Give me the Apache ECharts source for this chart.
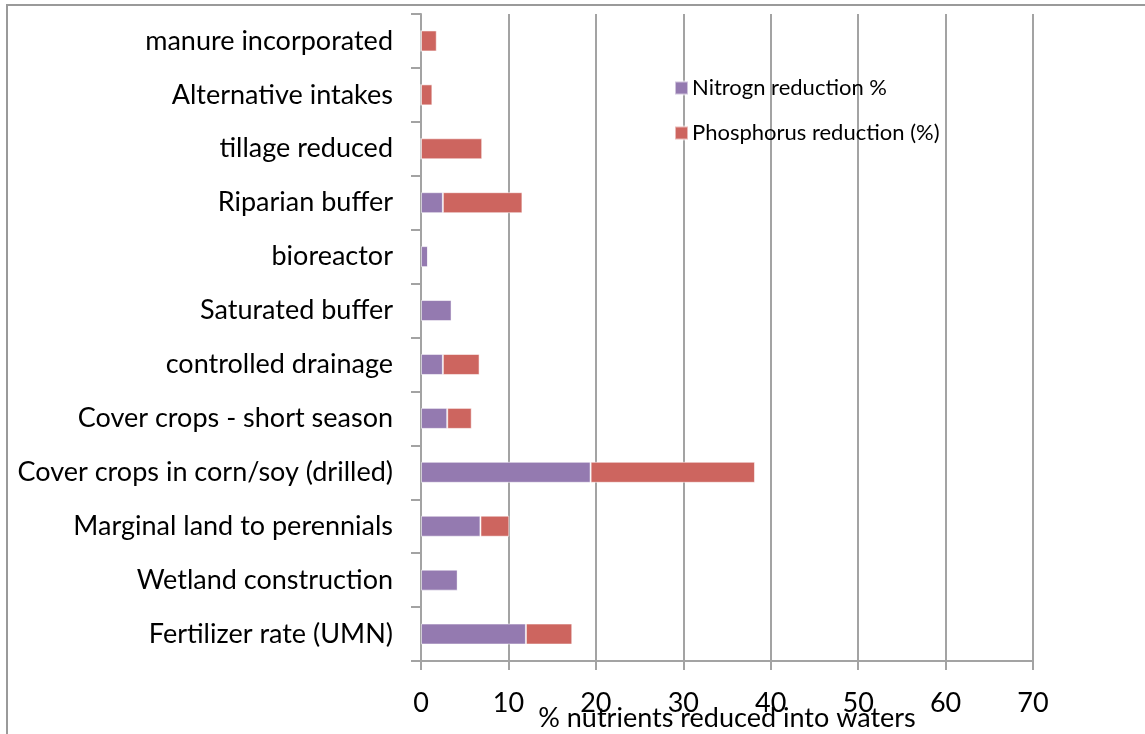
<!DOCTYPE html>
<html>
<head>
<meta charset="utf-8">
<script src="https://cdn.jsdelivr.net/npm/echarts@6/dist/echarts.min.js"></script>
<style>
  html, body { margin: 0; padding: 0; background: #fff; overflow: hidden; }
  #chart { width: 1145px; height: 734px; }
</style>
</head>
<body>
<div id="chart"></div>
<script>
// Conservation practices, listed bottom to top along the category axis
const practices = [
  'Fertilizer rate (UMN)',
  'Wetland construction',
  'Marginal land to perennials',
  'Cover crops in corn/soy (drilled)',
  'Cover crops - short season',
  'controlled drainage',
  'Saturated buffer',
  'bioreactor',
  'Riparian buffer',
  'tillage reduced',
  'Alternative intakes',
  'manure incorporated'
];

// Percent reduction of each nutrient delivered to waters
const nitrogenReduction   = [12.0, 4.2, 6.8, 19.4, 3.0, 2.5, 3.5, 0.8, 2.5, 0, 0, 0];
const phosphorusReduction = [5.3, 0, 3.3, 18.8, 2.8, 4.2, 0, 0, 9.1, 7.0, 1.3, 1.8];

const xTicks = { min: 0, max: 70, step: 10 };

const FONT = 'Lato, "Open Sans", sans-serif';
const AXIS_GREY = '#a3a3a3';

const chart = echarts.init(document.getElementById('chart'));

chart.setOption({
  animation: false,
  backgroundColor: '#ffffff',
  graphic: [{
    type: 'rect',
    shape: { x: 7, y: 5, width: 1150, height: 740 },
    style: { fill: 'none', stroke: '#9a9a9a', lineWidth: 2 },
    silent: true,
    z: -1
  }],
  grid: { left: 421, right: 112, top: 14, bottom: 73, containLabel: false, outerBoundsMode: 'none' },
  legend: {
    orient: 'vertical',
    left: 674,
    top: 77,
    padding: 0,
    itemWidth: 13,
    itemHeight: 13,
    itemGap: 23,
    icon: 'rect',
    textStyle: { fontFamily: FONT, fontSize: 22, lineHeight: 13, color: '#000', padding: [6, 0, 0, -1] },
    data: ['Nitrogn reduction %', 'Phosphorus reduction (%)']
  },
  xAxis: {
    type: 'value',
    min: xTicks.min,
    max: xTicks.max,
    interval: xTicks.step,
    name: '% nutrients reduced into waters',
    nameLocation: 'middle',
    nameGap: 44,
    nameMoveOverlap: false,
    nameTextStyle: { fontFamily: FONT, fontSize: 27, color: '#000' },
    axisLine: { show: true, lineStyle: { color: AXIS_GREY, width: 2 } },
    axisTick: { show: true, length: 9, lineStyle: { color: AXIS_GREY, width: 2 } },
    axisLabel: { fontFamily: FONT, fontSize: 27, color: '#000', margin: 29 },
    splitLine: { show: true, lineStyle: { color: AXIS_GREY, width: 2 } }
  },
  yAxis: {
    type: 'category',
    data: practices,
    axisLine: { show: true, lineStyle: { color: AXIS_GREY, width: 2 } },
    axisTick: { show: true, length: 10, lineStyle: { color: AXIS_GREY, width: 2 } },
    axisLabel: { fontFamily: FONT, fontSize: 27, color: '#000', margin: 28 },
    splitLine: { show: false }
  },
  series: [
    {
      name: 'Nitrogn reduction %',
      type: 'bar',
      stack: 'total',
      barWidth: 21,
      data: nitrogenReduction,
      itemStyle: { color: '#947ab0', borderColor: 'rgba(255,255,255,0.55)', borderWidth: 1 }
    },
    {
      name: 'Phosphorus reduction (%)',
      type: 'bar',
      stack: 'total',
      barWidth: 21,
      data: phosphorusReduction,
      itemStyle: { color: '#cd655f', borderColor: 'rgba(255,255,255,0.55)', borderWidth: 1 }
    }
  ]
});
</script>
</body>
</html>
